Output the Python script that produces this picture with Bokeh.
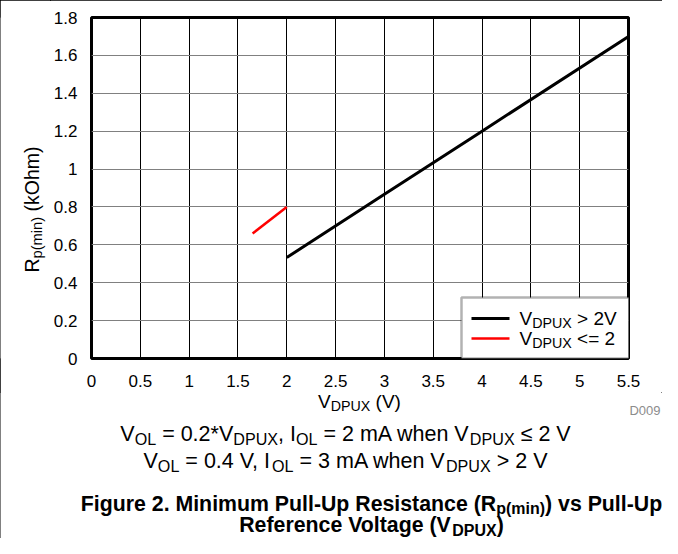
import math
from bokeh.plotting import figure
from bokeh.layouts import column, row
from bokeh.models import Label, BoxAnnotation, FixedTicker, CustomJSTickFormatter
from bokeh.embed import file_html
from bokeh.resources import INLINE

# ---------------- data ----------------
black_x = [2.0, 3.0, 4.0, 5.5]
black_y = [0.533, 0.867, 1.2, 1.7]
red_x = [1.65, 2.0]
red_y = [0.66, 0.80]

x_ticks = [0, 0.5, 1, 1.5, 2, 2.5, 3, 3.5, 4, 4.5, 5, 5.5]
x_tick_labels = ["0", "0.5", "1", "1.5", "2", "2.5", "3", "3.5", "4", "4.5", "5", "5.5"]
y_ticks = [0, 0.2, 0.4, 0.6, 0.8, 1, 1.2, 1.4, 1.6, 1.8]
y_tick_labels = ["0", "0.2", "0.4", "0.6", "0.8", "1", "1.2", "1.4", "1.6", "1.8"]

legend_black = [("V", False), ("DPUX", True), (" > 2V", False)]
legend_red = [("V", False), ("DPUX", True), (" <= 2", False)]
x_title = [("V", False), ("DPUX", True), (" (V)", False)]
y_title = [("R", False), ("p(min)", True), (" (kOhm)", False)]
caption1 = [("V", False), ("OL", True), (" = 0.2*V", False), ("DPUX", True), (", I", False),
            ("OL", True), (" = 2 mA when V", False), ("DPUX", True), (" \u2264 2 V", False)]
caption2 = [("V", False), ("OL", True), (" = 0.4 V, I", False), ("OL", True),
            (" = 3 mA when V", False), ("DPUX", True), (" > 2 V", False)]
title1 = [("Figure 2. Minimum Pull-Up Resistance (R", False), ("p(min)", True), (") vs Pull-Up", False)]
title2 = [("Reference Voltage (V", False), ("DPUX", True), (")", False)]
code_label = "D009"

# ---------------- layout (pixels) ----------------
W, H = 662, 538
LEFT_W = 50          # strip holding the y title
TOP_H = 392          # height of the plot row
FL, FT, FR, FB = 90, 17, 628, 358   # plot frame in page pixels
FONT = "Liberation Sans"

REG = {' ': 278, '(': 333, ')': 333, '*': 389, ',': 278, '-': 333, '.': 278,
       '<': 584, '=': 584, '>': 584, '\u2264': 549, 'A': 667, 'D': 722, 'F': 611,
       'I': 278, 'L': 556, 'O': 778, 'P': 667, 'R': 722, 'U': 722, 'V': 667, 'X': 667,
       'a': 556, 'c': 500, 'e': 556, 'g': 556, 'h': 556, 'i': 222, 'k': 500, 'l': 222,
       'm': 833, 'n': 556, 'o': 556, 'p': 556, 'r': 333, 's': 500, 't': 278, 'u': 556,
       'v': 500, 'w': 722, 'y': 500}
BOLD = {' ': 278, '(': 333, ')': 333, '-': 333, '.': 278, 'D': 722, 'F': 611, 'M': 833,
        'P': 667, 'R': 722, 'U': 722, 'V': 667, 'X': 667, 'a': 556, 'c': 556, 'e': 556,
        'f': 333, 'g': 611, 'i': 278, 'l': 278, 'm': 889, 'n': 611, 'o': 611, 'p': 611,
        'r': 389, 's': 556, 't': 333, 'u': 611, 'v': 556}

SUB_SCALE = 0.75
SUB_SHIFT = 0.16
BASE_FIX = 0.37      # labels render this many em below the requested baseline


def tw(s, size, bold=False):
    t = BOLD if bold else REG
    return sum(t.get(ch, 556) for ch in s) * size / 1000.0


def rich(fig, runs, x, y, size, bold=False, align="left", angle=0.0, color="black"):
    total = sum(tw(t, size * (SUB_SCALE if s else 1), bold) for t, s in runs)
    d = {"left": 0, "center": -total / 2, "right": -total}[align]
    for t, s in runs:
        fs = size * (SUB_SCALE if s else 1)
        shift = (size * SUB_SHIFT if s else 0) - BASE_FIX * fs
        lead = len(t) - len(t.lstrip())
        off = tw(t[:lead], fs, bold)
        txt = t.strip()
        if angle == 0:
            lx, ly = x + d + off, y - shift
        else:
            lx, ly = x + shift, y + d + off
        fig.add_layout(Label(x=lx, y=ly, x_units="screen", y_units="screen", text=txt,
                             text_font=FONT, text_font_size=f"{fs:.2f}px",
                             text_font_style="bold" if bold else "normal",
                             text_align="left", text_baseline="alphabetic",
                             angle=angle, text_color=color))
        d += tw(t, fs, bold)


def text_canvas(w, h, top=0, bottom=0):
    f = figure(width=w, height=h, output_backend="svg", toolbar_location=None,
               x_axis_location=None, y_axis_location=None, x_range=(0, 1), y_range=(0, 1),
               min_border=0, min_border_left=0, min_border_right=0,
               min_border_top=top, min_border_bottom=bottom)
    f.outline_line_color = None
    f.background_fill_color = "white"
    f.border_fill_color = "white"
    f.grid.visible = False
    return f


def sbox(fig, l, r, t, b, **kw):
    fig.add_layout(BoxAnnotation(left=l, right=r, top=t, bottom=b,
                                 left_units="screen", right_units="screen",
                                 top_units="screen", bottom_units="screen", **kw))


# ---------------- main plot ----------------
p = figure(width=W - LEFT_W, height=TOP_H, output_backend="svg", toolbar_location=None,
           x_range=(0, 5.5), y_range=(0, 1.8),
           min_border_left=FL - LEFT_W, min_border_top=FT,
           min_border_right=W - FR, min_border_bottom=TOP_H - FB)
p.background_fill_color = "white"
p.border_fill_color = "white"
p.outline_line_color = "black"
p.outline_line_width = 3
p.xgrid.grid_line_color = "black"
p.xgrid.grid_line_width = 1
p.ygrid.grid_line_color = "#808080"
p.ygrid.grid_line_width = 1

fmt_code = """
let i = 0, best = Infinity;
for (let k = 0; k < tv.length; k++) {
  const dd = Math.abs(tv[k] - tick);
  if (dd < best) { best = dd; i = k; }
}
return tl[i];
"""
for ax, ticks, labels, standoff in ((p.xaxis[0], x_ticks, x_tick_labels, 10),
                                     (p.yaxis[0], y_ticks, y_tick_labels, 8)):
    ax.ticker = FixedTicker(ticks=ticks)
    ax.formatter = CustomJSTickFormatter(args=dict(tv=ticks, tl=labels), code=fmt_code)
    ax.major_label_text_font = FONT
    ax.major_label_text_font_size = "17px"
    ax.major_label_text_color = "black"
    ax.major_label_standoff = standoff
    ax.axis_line_color = None
    ax.major_tick_line_color = None
    ax.minor_tick_line_color = None

p.line(black_x, black_y, line_color="black", line_width=3)
p.line(red_x, red_y, line_color="#ff0000", line_width=2.5)


def mx(img_x):
    return img_x - FL


def my(img_y):
    return FB - img_y


# legend (drawn inside the frame)
sbox(p, mx(460), mx(628), my(297), my(358), fill_color="white", fill_alpha=1.0,
     line_color="black", line_width=2.5)
sbox(p, mx(470), mx(508), my(316.5), my(319.5), fill_color="black", fill_alpha=1.0, line_color=None)
sbox(p, mx(470), mx(508), my(336.8), my(339.2), fill_color="#ff0000", fill_alpha=1.0, line_color=None)
rich(p, legend_black, mx(518), my(325), 19)
rich(p, legend_red, mx(518), my(345), 19)

# ---------------- y title strip (frame matches the plot frame rows) ----------------
ylab = text_canvas(LEFT_W, TOP_H, top=FT, bottom=TOP_H - FB)
rich(ylab, y_title, 39, FB - 209, 19.5, align="center", angle=math.pi / 2)

# ---------------- bottom text area ----------------
BOT_H = H - TOP_H
bot = text_canvas(W, BOT_H)


def by(img_y):
    return H - img_y


rich(bot, x_title, 359, by(408), 19, align="center")
bot.add_layout(Label(x=660, y=by(414.5) + BASE_FIX * 13, x_units="screen", y_units="screen",
                     text=code_label, text_font=FONT, text_font_size="13px",
                     text_color="#8c8c8c", text_align="right", text_baseline="alphabetic"))
rich(bot, caption1, 345, by(441), 21.5, align="center")
rich(bot, caption2, 345, by(468), 21.5, align="center")
rich(bot, title1, 371, by(511), 21.3, bold=True, align="center")
rich(bot, title2, 371, by(532.5), 21.3, bold=True, align="center")

layout = column(row(ylab, p, spacing=0), bot, spacing=0)
layout.styles = {"outline": "1px solid black", "outline-offset": "-1px"}

open("out.html", "w").write(file_html(layout, INLINE))
